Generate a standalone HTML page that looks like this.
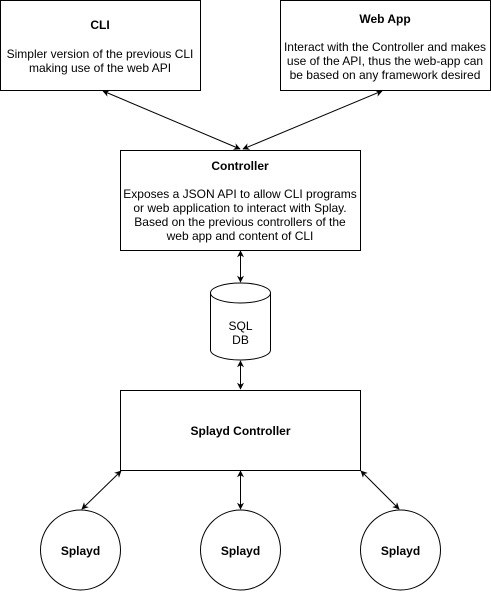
<!DOCTYPE html>
<html><head><style>body{margin:0;background:#fff}</style></head><body>
<svg width="491" height="591" viewBox="0 0 491 591" xmlns="http://www.w3.org/2000/svg" font-family="Liberation Sans, Arial, sans-serif" font-size="12">
<defs>
<marker id="a" viewBox="0 0 10 10" refX="9" refY="5" markerWidth="7" markerHeight="7" orient="auto-start-reverse" markerUnits="userSpaceOnUse"><path d="M0,0 L10,5 L0,10 L3,5 z" fill="#000"/></marker>
</defs>
<g fill="#fff" stroke="#000" stroke-width="1">
<rect x="0.5" y="0.5" width="200" height="90"/>
<rect x="280.5" y="0.5" width="210" height="90"/>
<rect x="120.5" y="150.5" width="240" height="100"/>
<rect x="120.5" y="390.5" width="240" height="80"/>
<path d="M210.5,293 A30,10 0 0 1 270.5,293 L270.5,350 A30,10 0 0 1 210.5,350 Z"/>
<path d="M210.5,293 A30,10 0 0 0 270.5,293" fill="none"/>
<circle cx="80.5" cy="550" r="40"/>
<circle cx="240.5" cy="550" r="40"/>
<circle cx="400.5" cy="550" r="40"/>
</g>
<g stroke="#000" stroke-width="1" marker-start="url(#a)" marker-end="url(#a)" fill="none">
<line x1="103" y1="91" x2="240" y2="149"/>
<line x1="382" y1="91" x2="243" y2="149"/>
<line x1="240.5" y1="251" x2="240.5" y2="282"/>
<line x1="240.5" y1="361" x2="240.5" y2="389"/>
<line x1="121" y1="471" x2="82" y2="509"/>
<line x1="240.5" y1="471" x2="240.5" y2="509"/>
<line x1="361" y1="471" x2="399" y2="509"/>
</g>
<g text-anchor="middle" fill="#000">
<text x="100" y="29" font-weight="bold">CLI</text>
<text x="100" y="58">Simpler version of the previous CLI</text>
<text x="100" y="72">making use of the web API</text>
<text x="385" y="23" font-weight="bold">Web App</text>
<text x="385" y="51">Interact with the Controller and makes</text>
<text x="385" y="65">use of the API, thus the web-app can</text>
<text x="385" y="79">be based on any framework desired</text>
<text x="240" y="170" font-weight="bold">Controller</text>
<text x="240" y="198">Exposes a JSON API to allow CLI programs</text>
<text x="240" y="212">or web application to interact with Splay.</text>
<text x="240" y="226">Based on the previous controllers of the</text>
<text x="240" y="240">web app and content of CLI</text>
<text x="240.5" y="330">SQL</text>
<text x="240.5" y="344">DB</text>
<text x="240.5" y="435" font-weight="bold">Splayd Controller</text>
<text x="80.5" y="555" font-weight="bold">Splayd</text>
<text x="240.5" y="555" font-weight="bold">Splayd</text>
<text x="400.5" y="555" font-weight="bold">Splayd</text>
</g>
</svg>
</body></html>
